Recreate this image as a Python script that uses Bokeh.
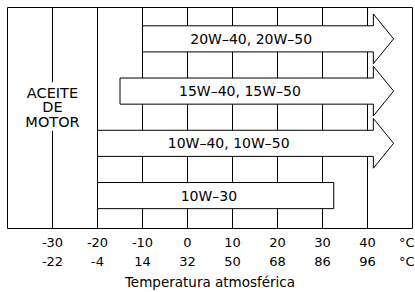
from bokeh.plotting import figure
from bokeh.models import LinearAxis, FixedTicker, Grid, ColumnDataSource
from bokeh.core.properties import value
from bokeh.embed import file_html
from bokeh.resources import INLINE

# ---- data ----
oil_grades = ["20W–40, 20W–50", "15W–40, 15W–50", "10W–40, 10W–50", "10W–30"]
temp_low_c = [-10, -15, -20, -20]
temp_high_c = [41.3, 41.3, 41.3, 32.5]
open_ended = [True, True, True, False]

celsius_ticks = [-30, -20, -10, 0, 10, 20, 30, 40]
celsius_labels = ["-30", "-20", "-10", "0", "10", "20", "30", "40"]
fahrenheit_labels = ["-22", "-4", "14", "32", "50", "68", "86", "96"]
unit_labels = ["°C", "°C"]
side_label = "ACEITE\nDE\nMOTOR"
x_title = "Temperatura atmosférica"

# ---- styles ----
FONT = "DejaVu Sans"
BAR_H = 0.25      # half height of bar
HEAD_H = 0.476    # half height of arrow head
HEAD_LEN = 4.5    # arrow head length in °C
UNIT_POS = 49

n = len(oil_grades)
rows = [n - 1 - i for i in range(n)]

xs, ys = [], []
for lo, hi, arrow, r in zip(temp_low_c, temp_high_c, open_ended, rows):
    if arrow:
        xs.append([lo, hi, hi, hi + HEAD_LEN, hi, hi, lo])
        ys.append([r - BAR_H, r - BAR_H, r - HEAD_H, r, r + HEAD_H, r + BAR_H, r + BAR_H])
    else:
        xs.append([lo, hi, hi, lo])
        ys.append([r - BAR_H, r - BAR_H, r + BAR_H, r + BAR_H])

p = figure(width=414, height=292, x_range=(-40, 50), y_range=(-0.63, 3.6),
           output_backend="svg", toolbar_location=None,
           x_axis_location=None, y_axis_location=None,
           min_border_left=7, min_border_right=2, min_border_top=7)
for g in p.grid:
    g.visible = False
p.outline_line_color = "black"
p.outline_line_width = 1
p.background_fill_color = "white"
p.border_fill_color = "white"

grid = Grid(dimension=0, ticker=FixedTicker(ticks=celsius_ticks),
            grid_line_color="black", grid_line_width=1)
p.add_layout(grid)

# white gap behind the side label
p.quad(left=[-31], right=[-29], bottom=[1.24], top=[2.17],
       fill_color="white", line_color=None)
p.text(x=[-30], y=[1.686], text=[side_label], text_align="center",
       text_baseline="middle", text_font=value(FONT), text_font_size="14.5px",
       text_line_height=0.92, text_color="black")

src = ColumnDataSource(dict(xs=xs, ys=ys))
p.patches("xs", "ys", source=src, fill_color="white", line_color="black", line_width=1)

lx = [(lo + hi) / 2 - 1.5 for lo, hi in zip(temp_low_c, temp_high_c)]
p.text(x=lx, y=rows, text=oil_grades, text_align="center", text_baseline="middle",
       text_font=value(FONT), text_font_size="14px", text_color="black")

ticks = celsius_ticks + [UNIT_POS]
c_over = {t: l for t, l in zip(celsius_ticks, celsius_labels)}
c_over[UNIT_POS] = unit_labels[0]
f_over = {t: l for t, l in zip(celsius_ticks, fahrenheit_labels)}
f_over[UNIT_POS] = unit_labels[1]

for over, standoff, title in [(c_over, 6, None), (f_over, 1, x_title)]:
    ax = LinearAxis(ticker=FixedTicker(ticks=ticks), major_label_overrides=over)
    ax.axis_line_color = None
    ax.major_tick_line_color = None
    ax.minor_tick_line_color = None
    ax.major_tick_out = 0
    ax.major_tick_in = 0
    ax.major_label_standoff = standoff
    ax.major_label_text_font = FONT
    ax.major_label_text_font_size = "13px"
    ax.major_label_text_color = "black"
    if title:
        ax.axis_label = title
        ax.axis_label_text_font = FONT
        ax.axis_label_text_font_size = "13.5px"
        ax.axis_label_text_font_style = "normal"
        ax.axis_label_text_color = "black"
        ax.axis_label_standoff = 2
    p.add_layout(ax, "below")

open("out.html", "w").write(file_html(p, INLINE))
